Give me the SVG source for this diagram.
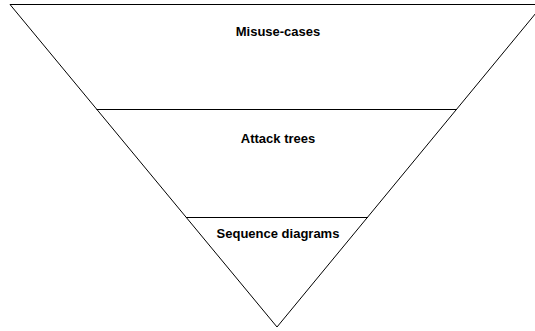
<svg xmlns="http://www.w3.org/2000/svg" width="535" height="331" viewBox="0 0 535 331">
  <style>
    .edge { fill: none; stroke: #000; stroke-width: 1; }
    .label { font-family: "Liberation Sans", Arial, sans-serif; font-size: 13px; font-weight: bold; fill: #000; text-anchor: middle; }
  </style>
  <rect width="535" height="331" fill="#fff"/>
  <!-- inverted pyramid outline -->
  <g id="pyramid">
    <polygon class="edge" points="10,4.5 543,4.5 277,327"/>
  </g>
  <!-- dividing lines between tiers -->
  <g id="connectors">
    <line class="edge" x1="96.5" y1="109.5" x2="457" y2="109.5"/>
    <line class="edge" x1="186" y1="217.5" x2="368" y2="217.5"/>
  </g>
  <g id="tier-misuse-cases">
    <text class="label" x="278" y="35.5">Misuse-cases</text>
  </g>
  <g id="tier-attack-trees">
    <text class="label" x="278" y="142.5">Attack trees</text>
  </g>
  <g id="tier-sequence-diagrams">
    <text class="label" x="278" y="237.5">Sequence diagrams</text>
  </g>
</svg>
